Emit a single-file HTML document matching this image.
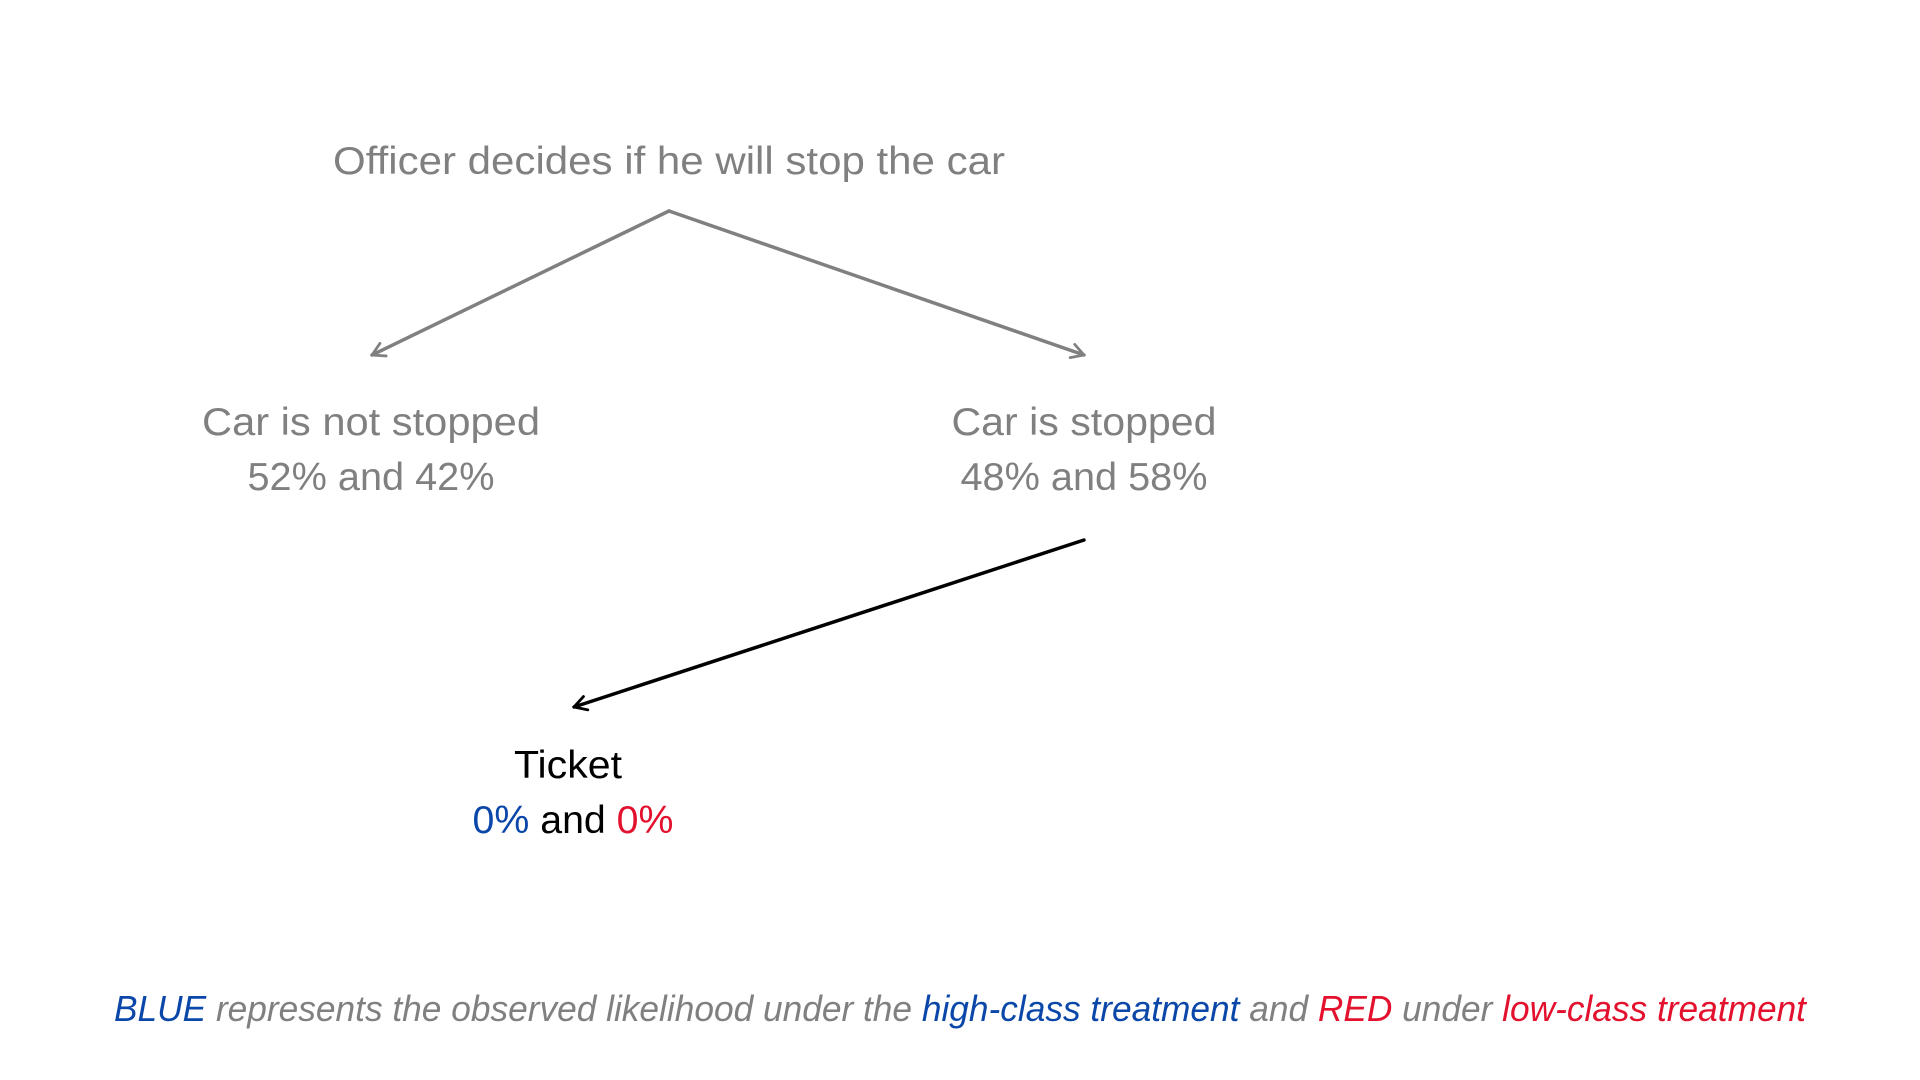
<!DOCTYPE html>
<html><head><meta charset="utf-8"><style>
html,body{margin:0;padding:0;background:#fff;}
svg{display:block;font-family:"Liberation Sans",sans-serif;}
</style></head><body>
<svg width="1920" height="1080" viewBox="0 0 1920 1080">
<defs>
<marker id="ag" viewBox="0 0 10 10" refX="9" refY="5" markerWidth="5" markerHeight="5" markerUnits="strokeWidth" orient="auto">
<polyline points="2,1 9,5 2,9" fill="none" stroke="#808080" stroke-width="1.6" stroke-linecap="round" stroke-linejoin="round"/>
</marker>
<marker id="ab" viewBox="0 0 10 10" refX="9" refY="5" markerWidth="5" markerHeight="5" markerUnits="strokeWidth" orient="auto">
<polyline points="2,1 9,5 2,9" fill="none" stroke="#000" stroke-width="1.6" stroke-linecap="round" stroke-linejoin="round"/>
</marker>
</defs>
<g fill="#808080" font-size="39" text-anchor="middle">
<text x="669" y="174" textLength="672" lengthAdjust="spacingAndGlyphs">Officer decides if he will stop the car</text>
<text x="371" y="435" textLength="338" lengthAdjust="spacingAndGlyphs">Car is not stopped</text>
<text x="371" y="490" textLength="247" lengthAdjust="spacingAndGlyphs">52% and 42%</text>
<text x="1084" y="435" textLength="265" lengthAdjust="spacingAndGlyphs">Car is stopped</text>
<text x="1084" y="490" textLength="247" lengthAdjust="spacingAndGlyphs">48% and 58%</text>
</g>
<g stroke="#808080" stroke-width="3.5" fill="none" stroke-linecap="round">
<line x1="669" y1="211" x2="372" y2="355" marker-end="url(#ag)"/>
<line x1="669" y1="211" x2="1084" y2="355" marker-end="url(#ag)"/>
</g>
<line x1="1084" y1="540" x2="574" y2="707" stroke="#000" stroke-width="3.5" stroke-linecap="round" marker-end="url(#ab)"/>
<text x="568" y="778" font-size="39" text-anchor="middle" fill="#000" textLength="108" lengthAdjust="spacingAndGlyphs">Ticket</text>
<text x="573" y="833" font-size="39" text-anchor="middle" textLength="201" lengthAdjust="spacingAndGlyphs"><tspan fill="#0a47a9">0%</tspan><tspan fill="#000"> and </tspan><tspan fill="#e3112d">0%</tspan></text>
<text x="960" y="1021" font-size="36" font-style="italic" text-anchor="middle" fill="#808080" textLength="1692" lengthAdjust="spacingAndGlyphs"><tspan fill="#0a47a9">BLUE</tspan> represents the observed likelihood under the <tspan fill="#0a47a9">high-class treatment</tspan> and <tspan fill="#e3112d">RED</tspan> under <tspan fill="#e3112d">low-class treatment</tspan></text>
</svg>
</body></html>
